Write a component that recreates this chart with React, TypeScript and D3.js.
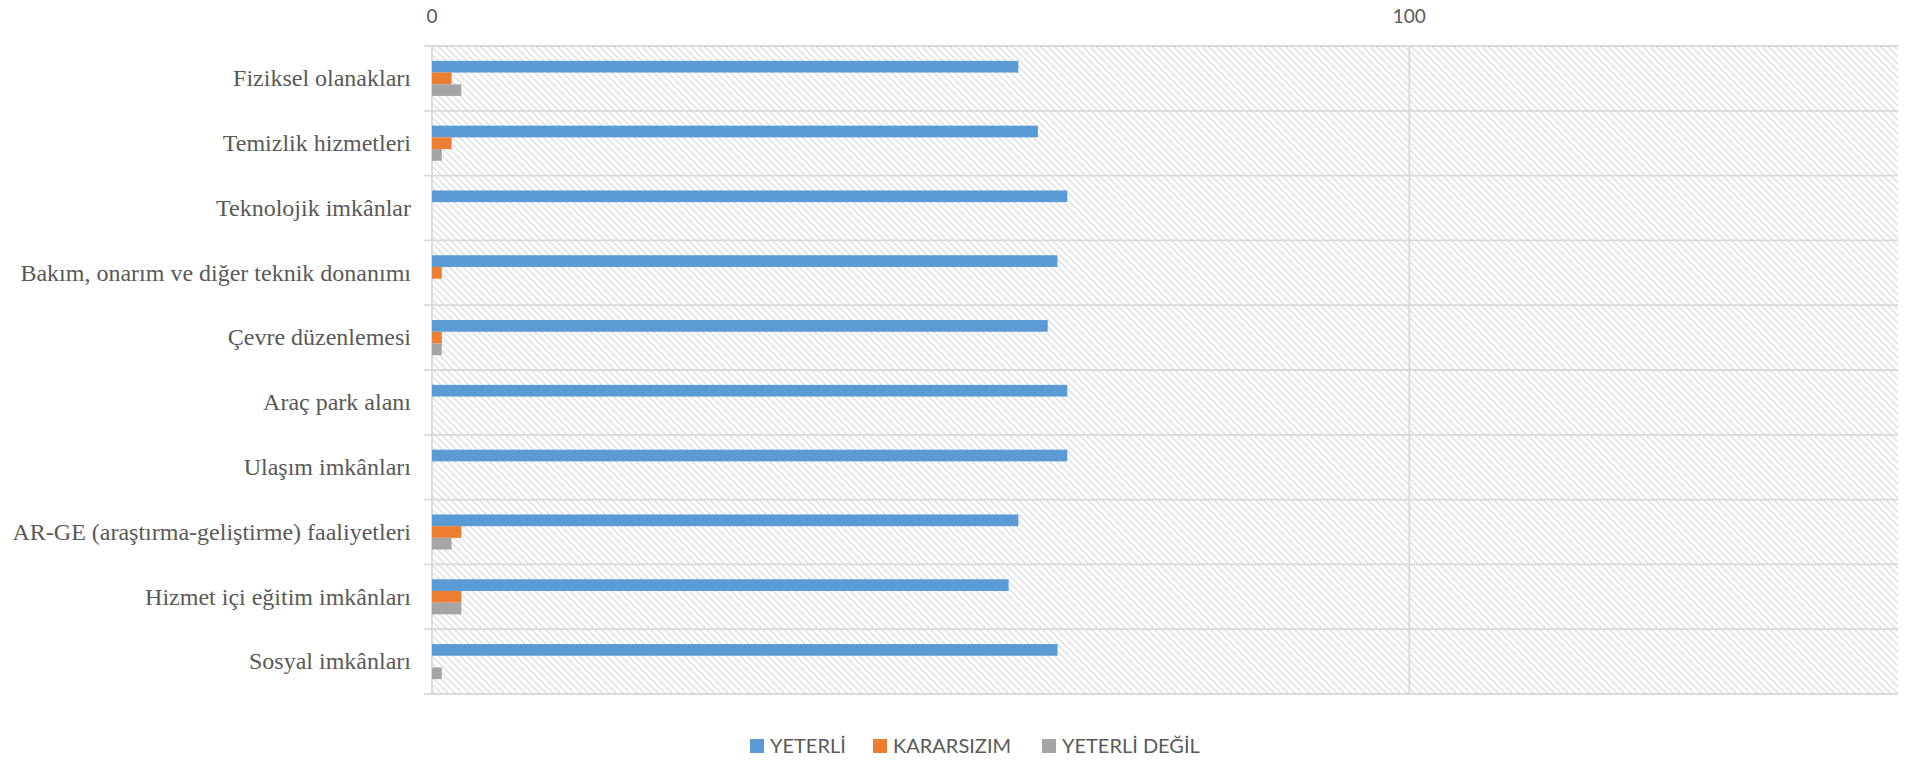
import * as d3 from "d3";

const categories = [
  "Fiziksel olanakları",
  "Temizlik hizmetleri",
  "Teknolojik imkânlar",
  "Bakım, onarım ve diğer teknik donanımı",
  "Çevre düzenlemesi",
  "Araç park alanı",
  "Ulaşım imkânları",
  "AR-GE (araştırma-geliştirme) faaliyetleri",
  "Hizmet içi eğitim imkânları",
  "Sosyal imkânları",
];

const seriesNames = ["YETERLİ", "KARARSIZIM", "YETERLİ DEĞİL"];
const yeterli = [60, 62, 65, 64, 63, 65, 65, 60, 59, 64];
const kararsizim = [2, 2, 0, 1, 1, 0, 0, 3, 3, 0];
const yeterliDegil = [3, 1, 0, 0, 1, 0, 0, 2, 3, 1];
const xTicks = [0, 100];

const colors = ["#5B9BD5", "#ED7D31", "#A5A5A5"];
const seriesValues = [yeterli, kararsizim, yeterliDegil];

const W = 1910;
const H = 760;
const margin = { top: 46, right: 12, bottom: 66, left: 432 };
const gridColor = "#d9d9d9";
const textColor = "#595959";

export default function App() {
  const x = d3
    .scaleLinear()
    .domain([0, 150])
    .range([margin.left, W - margin.right]);

  const y0 = d3
    .scaleBand<string>()
    .domain(categories)
    .range([margin.top, H - margin.bottom])
    .padding(0);

  const y1 = d3
    .scaleBand<string>()
    .domain(seriesNames)
    .range([0, y0.bandwidth()])
    .paddingInner(0)
    .paddingOuter(1.27);

  const [x0, x1] = x.range();
  const top = margin.top;
  const bottom = H - margin.bottom;

  // legend layout
  const legendItems = [
    { name: seriesNames[0], x: 750 },
    { name: seriesNames[1], x: 873 },
    { name: seriesNames[2], x: 1042 },
  ];

  return (
    <svg
      width={W}
      height={H}
      style={{ position: "absolute", left: 0, top: 0, background: "#fff" }}
    >
      <defs>
        <pattern
          id="hatch"
          patternUnits="userSpaceOnUse"
          width={7}
          height={7}
        >
          <rect width={7} height={7} fill="#fff" />
          <path
            d="M-1,-1 L8,8 M-1,6 L1,8 M6,-1 L8,1"
            stroke="#e0e0e0"
            strokeWidth={1.5}
          />
        </pattern>
      </defs>

      {/* plot background */}
      <rect x={x0} y={top} width={x1 - x0} height={bottom - top} fill="url(#hatch)" />

      {/* vertical gridlines */}
      {xTicks.map((t) => (
        <line
          key={"g" + t}
          x1={x(t)}
          x2={x(t)}
          y1={top}
          y2={bottom}
          stroke={gridColor}
          strokeWidth={1.8}
        />
      ))}

      {/* horizontal category lines with outside ticks */}
      {categories.map((c) => (
        <line
          key={"h" + c}
          x1={x0 - 8}
          x2={x1}
          y1={y0(c)!}
          y2={y0(c)!}
          stroke={gridColor}
          strokeWidth={1.8}
        />
      ))}
      <line x1={x0 - 8} x2={x1} y1={bottom} y2={bottom} stroke={gridColor} strokeWidth={1.8} />

      {/* bars */}
      {categories.map((c, i) => (
        <g key={"b" + c} transform={`translate(0,${y0(c)})`}>
          {seriesNames.map((s, j) => {
            const v = seriesValues[j][i];
            if (!v) return null;
            return (
              <rect
                key={s}
                x={x(0)}
                y={y1(s)!}
                width={x(v) - x(0)}
                height={y1.bandwidth()}
                fill={colors[j]}
              />
            );
          })}
        </g>
      ))}

      {/* x tick labels (top) */}
      {xTicks.map((t) => (
        <text
          key={"t" + t}
          x={x(t)}
          y={22.7}
          textAnchor="middle"
          fontFamily="Lato, 'Open Sans', sans-serif"
          fontSize={19}
          fill={textColor}
        >
          {t}
        </text>
      ))}

      {/* category labels */}
      {categories.map((c) => (
        <text
          key={"l" + c}
          x={411}
          y={y0(c)! + y0.bandwidth() / 2 + 7.8}
          textAnchor="end"
          fontFamily="'Liberation Serif', 'Times New Roman', serif"
          fontSize={24}
          fill={textColor}
        >
          {c}
        </text>
      ))}

      {/* legend */}
      {legendItems.map((d, j) => (
        <g key={"lg" + d.name}>
          <rect x={d.x} y={739} width={14} height={14} fill={colors[j]} />
          <text
            x={d.x + 20}
            y={753}
            fontFamily="Lato, 'Open Sans', sans-serif"
            fontSize={20}
            fill={textColor}
          >
            {d.name}
          </text>
        </g>
      ))}
    </svg>
  );
}
